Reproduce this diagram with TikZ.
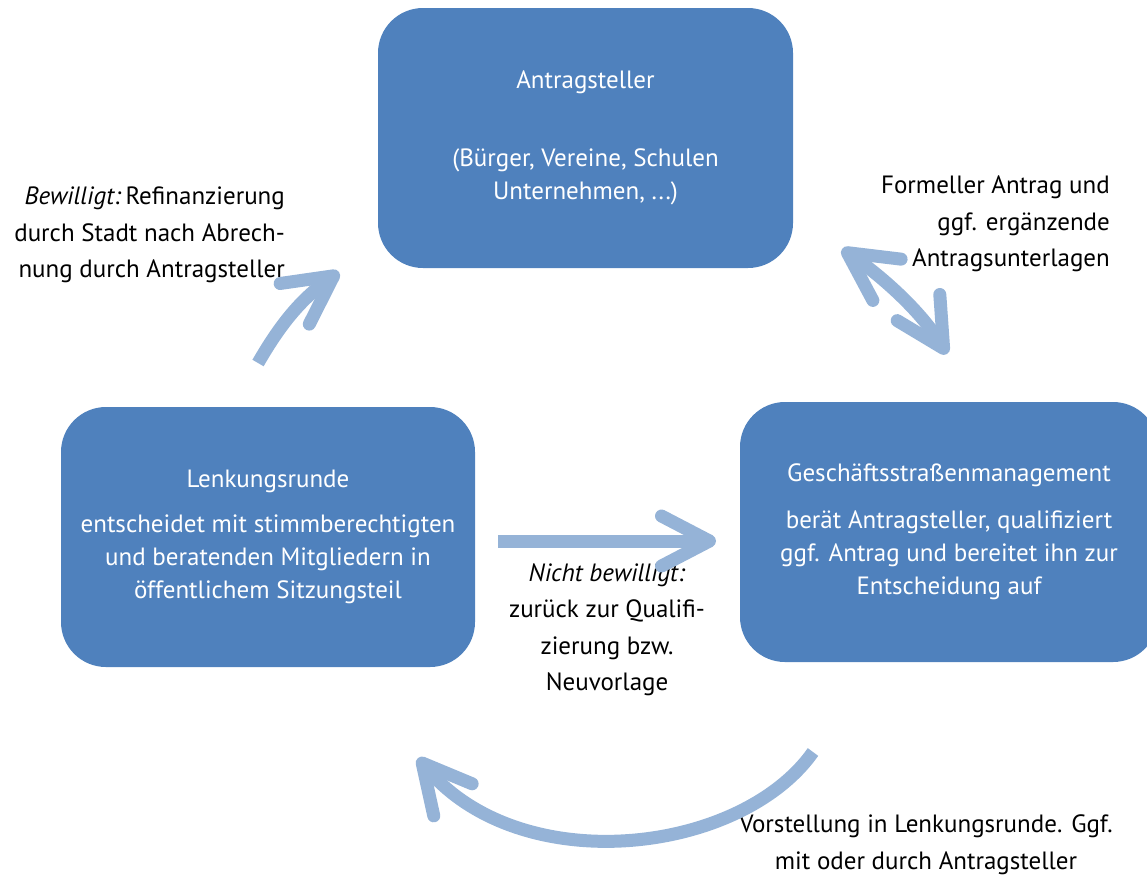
\documentclass[tikz,border=0pt]{standalone}
\usepackage{fontspec}
\setmainfont{PT Sans}
\usetikzlibrary{arrows.meta}
\definecolor{boxblue}{HTML}{4F81BD}
\definecolor{arrowblue}{HTML}{95B3D7}
\begin{document}
\begin{tikzpicture}[x=1pt,y=-1pt,
  box/.style={fill=boxblue, rounded corners=45pt, text=white, align=center, inner sep=0pt, font=\fontsize{25}{33}\selectfont},
  lbl/.style={text=black, font=\fontsize{25}{36.5}\selectfont, inner sep=0pt},
  flow/.style={draw=arrowblue, line width=13pt},
  tip/.tip={Straight Barb[length=48pt,width=50pt,round]},
]
\useasboundingbox (0,0) rectangle (1147,879);
\clip (0,0) rectangle (1147,879);

\node[box, minimum width=415pt, minimum height=260pt] (ant) at (585.5,138)
  {Antragsteller\\[45pt](Bürger, Vereine, Schulen\\Unternehmen, ...)};
\node[box, minimum width=414pt, minimum height=260pt] (lenk) at (268,537)
  {Lenkungsrunde\\[12pt]entscheidet mit stimmberechtigten\\und beratenden Mitgliedern in\\öffentlichem Sitzungsteil};
\node[box, minimum width=418pt, minimum height=260pt] (gsm) at (949,532)
  {Geschäftsstraßenmanagement\\[14pt]berät Antragsteller, qualifiziert\\ggf. Antrag und bereitet ihn zur\\Entscheidung auf};

\node[lbl, align=right, anchor=east] (lblbew) at (285,235)
  {\textit{Bewilligt:}\,Refinanzierung\\durch Stadt nach Abrech-\\nung durch Antragsteller};
\node[lbl, align=right, anchor=east] (lblform) at (1110,224)
  {Formeller Antrag und\\ggf. ergänzende\\Antragsunterlagen};
\node[lbl, align=center] (lblnicht) at (607,629.5)
  {\textit{Nicht bewilligt:}\\zurück zur Qualifi-\\zierung bzw.\\Neuvorlage};
\node[lbl, align=center] (lblvor) at (926,844.5)
  {Vorstellung in Lenkungsrunde. Ggf.\\mit oder durch Antragsteller};

\coordinate (a1s) at (258,363);
\coordinate (a1e) at (339,272);
\coordinate (a2s) at (842,249);
\coordinate (a2e) at (947,354);
\coordinate (a3s) at (498,541);
\coordinate (a3e) at (716,541);
\coordinate (a4s) at (813,752);
\coordinate (a4e) at (418,758);

\draw[flow, -tip] (a1s) .. controls (280,325) and (300,300) .. (a1e);
\draw[flow, tip-tip] (a2s) .. controls (880,275) and (920,310) .. (a2e);
\draw[flow, -tip] (a3s) -- (a3e);
\draw[flow, -tip] (a4s) .. controls (740,855) and (520,880) .. (a4e);
\end{tikzpicture}
\end{document}
